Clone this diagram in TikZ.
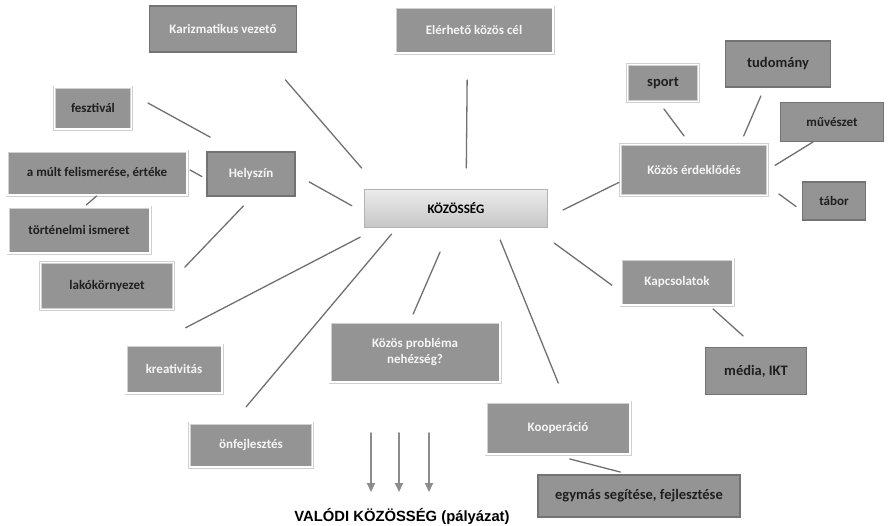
\documentclass[tikz,border=0pt]{standalone}
\usepackage{fontspec}
\setmainfont{Carlito}
\newfontfamily\titlefont{Liberation Sans}
\usepackage{xcolor}
\definecolor{boxgray}{RGB}{148,148,148}
\definecolor{framegray}{RGB}{208,208,208}
\definecolor{darkframe}{RGB}{115,115,115}
\definecolor{linegray}{RGB}{112,112,112}
\definecolor{arrowgray}{RGB}{140,140,140}
\definecolor{toptone}{RGB}{236,236,236}
\definecolor{bottone}{RGB}{198,198,198}
\usetikzlibrary{arrows.meta}

\begin{document}
\begin{tikzpicture}[x=1pt,y=-1pt,line cap=round,
	wh/.style 2 args={minimum width=#1pt,minimum height=#2pt}]
	\tikzstyle{lbox}=[rectangle,fill=boxgray,draw=framegray,double=white,double distance=1.6pt,line width=0.7pt,outer sep=0pt,inner sep=2pt,align=center,font=\fontsize{13}{16}\selectfont\bfseries];
	\tikzstyle{dbox}=[rectangle,fill=boxgray,draw=darkframe,line width=1.1pt,outer sep=0pt,inner sep=2pt,align=center,font=\fontsize{13}{16}\selectfont\bfseries];
	\tikzstyle{cat}=[text=white!96!black];
	\tikzstyle{leaf}=[text=black!88];
	\tikzstyle{big}=[font=\fontsize{14.5}{17}\selectfont\bfseries];
	\tikzstyle{link}=[draw=linegray,line width=1.3pt];
	\tikzstyle{down}=[draw=arrowgray,line width=2pt,-{Triangle[width=8pt,length=9pt]}];
	\useasboundingbox (0,0) rectangle (891,525);
	%% Centre
	\node[rectangle,draw=black!30,line width=0.6pt,top color=toptone,bottom color=bottone,outer sep=0pt,wh={183}{38},font=\fontsize{13}{16}\selectfont\bfseries] (koz) at (456,208) {KÖZÖSSÉG};
	%% Top
	\node[dbox,cat,wh={147}{46}] (kar) at (223,29) {Karizmatikus vezető};
	\node[lbox,cat,wh={158}{46}] (eler) at (474,30) {Elérhető közös cél};
	%% Left
	\node[lbox,leaf,wh={77}{42}] (fesz) at (93,108) {fesztivál};
	\node[lbox,leaf,wh={180}{44}] (mult) at (97,173) {a múlt felismerése, értéke};
	\node[dbox,cat,wh={88}{44}] (hely) at (251,174) {Helyszín};
	\node[lbox,leaf,wh={142}{46}] (tort) at (79,230) {történelmi ismeret};
	\node[lbox,leaf,wh={133}{47}] (lako) at (107,286) {lakókörnyezet};
	%% Right
	\node[lbox,leaf,big,wh={71}{37}] (sport) at (663,83) {sport};
	\node[dbox,leaf,big,wh={105}{46}] (tud) at (778,64) {tudomány};
	\node[dbox,leaf,wh={103}{39}] (muv) at (832,122) {művészet};
	\node[lbox,cat,wh={147}{51}] (erd) at (694,170) {Közös érdeklődés};
	\node[dbox,leaf,wh={63}{38}] (tabor) at (834,201) {tábor};
	\node[lbox,cat,wh={112}{46}] (kapcs) at (677,282) {Kapcsolatok};
	\node[dbox,leaf,big,wh={101}{47}] (media) at (756,371) {média, IKT};
	%% Bottom
	\node[lbox,cat,wh={144}{52}] (koop) at (558,428) {Kooperáció};
	\node[dbox,leaf,big,wh={202}{42}] (egy) at (639,496) {egymás segítése, fejlesztése};
	\node[lbox,cat,wh={96}{48}] (kreat) at (174,369) {kreativitás};
	\node[lbox,cat,wh={170}{60}] (prob) at (415,352) {Közös probléma\\nehézség?};
	\node[lbox,cat,wh={123}{44}] (onf) at (251,445) {önfejlesztés};
	\node[font=\titlefont\fontsize{14.8}{17}\selectfont\bfseries] (valodi) at (402,516) {VALÓDI KÖZÖSSÉG (pályázat)};
	%% Links
	\draw[link,shorten <=36.9pt,shorten >=27.7pt] (kar.-31.2) -- (koz.166.3);
	\draw[link,shorten <=27pt,shorten >=21pt] (eler.-106.2) -- (koz.62.7);
	\draw[link,shorten <=18.8pt,shorten >=30.9pt] (fesz.20) -- (hely.122.5);
	\draw[link,shorten <=3.5pt,shorten >=5.8pt] (mult.3) -- (hely.187.6);
	\draw[link,shorten <=1.5pt,shorten >=3.1pt] (mult.-88) -- (tort.78.7);
	\draw[link,shorten <=13.9pt,shorten >=16.5pt] (hely.-85.6) -- (lako.6.9);
	\draw[link,shorten <=16.2pt,shorten >=14.5pt] (hely.0) -- (koz.183.9);
	\draw[link,shorten <=37.4pt,shorten >=22pt] (kreat.132.9) -- (koz.194.5);
	\draw[link,shorten <=21pt,shorten >=9.2pt] (onf.130.2) -- (koz.198.4);
	\draw[link,shorten <=8.7pt,shorten >=27.3pt] (prob.100.4) -- (koz.255);
	\draw[link,shorten <=20.5pt,shorten >=14pt] (koop.73.5) -- (koz.-26.1);
	\draw[link,shorten <=11.2pt,shorten >=27.2pt] (kapcs.190.7) -- (koz.-14.2);
	\draw[link,shorten <=5.9pt,shorten >=17.2pt] (kapcs.-36) -- (media.90.5);
	\draw[link,shorten <=19.8pt,shorten >=11.9pt] (koop.254.5) -- (egy.109.7);
	\draw[link,shorten <=17.3pt,shorten >=1.7pt] (koz.-6.7) -- (erd.189.5);
	\draw[link,shorten <=9.3pt,shorten >=10.6pt] (sport.256) -- (erd.98.3);
	\draw[link,shorten <=9.8pt,shorten >=9.3pt] (tud.240.5) -- (erd.29.4);
	\draw[link,shorten <=1pt,shorten >=8.9pt] (muv.227) -- (erd.-0.5);
	\draw[link,shorten <=14.1pt,shorten >=8pt] (erd.-12.9) -- (tabor.198.6);
	%% Arrows
	\foreach \dx in {-31,-3,27}
		\draw[down] ([xshift=\dx pt,yshift=83pt]valodi.center) -- ([xshift=\dx pt,yshift=24pt]valodi.center);
\end{tikzpicture}
\end{document}
